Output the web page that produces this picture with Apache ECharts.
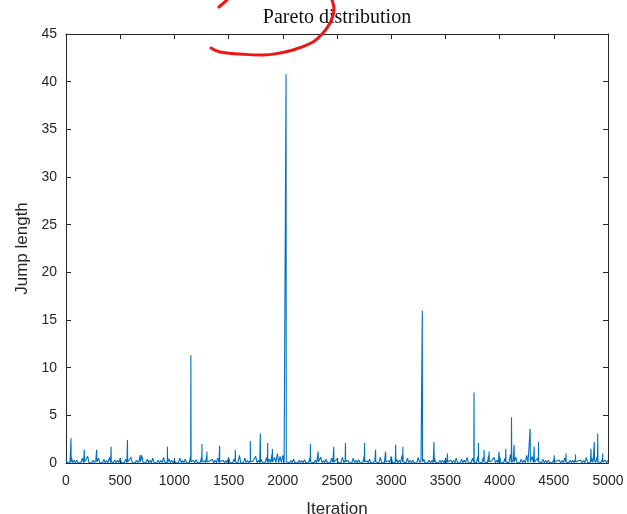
<!DOCTYPE html>
<html>
<head>
<meta charset="utf-8">
<script src="https://cdn.jsdelivr.net/npm/echarts@6/dist/echarts.min.js"></script>
<style>
    html, body { margin: 0; padding: 0; background: #fff; }
    #chart { width: 627px; height: 514px; }
</style>
</head>
<body>
<div id="chart"></div>
<script>
const TITLE = "Pareto distribution";
const X_NAME = "Iteration";
const Y_NAME = "Jump length";

// background noise of the trace, one reading every FLOOR_STEP iterations;
// between readings the trace drops back near zero
const FLOOR_STEP = 25;
const FLOOR_BASE = 0.03;
const floorLen = [
    0.4, 0.2, 0.6, 0.3, 0.3, 0.2, 0.5, 0.25, 0.7, 0.2, 0.3, 0.3, 0.5, 0.2, 0.4, 0.25, 0.6, 0.2, 0.3, 0.3,
    0.5, 0.2, 0.4, 0.3, 0.6, 0.2, 0.3, 0.25, 0.8, 0.2, 0.4, 0.3, 0.5, 0.2, 0.3, 0.25, 0.6, 0.2, 0.45, 0.3,
    0.3, 0.2, 0.5, 0.25, 0.4, 0.2, 0.7, 0.3, 0.35, 0.2, 0.6, 0.25, 0.9, 0.2, 0.4, 0.3, 0.5, 0.2, 0.3, 0.25,
    0.6, 0.2, 0.4, 0.3, 0.8, 0.2, 0.5, 0.25, 0.3, 0.2, 0.7, 0.3, 0.4, 0.2, 0.6, 0.4, 0.9, 0.6, 1.0, 0.7,
    0.8, 0.2, 0.3, 0.25, 0.4, 0.2, 0.3, 0.25, 0.35, 0.2, 0.5, 0.3, 0.3, 0.2, 0.6, 0.25, 0.4, 0.2, 0.5, 0.3,
    0.4, 0.2, 0.6, 0.25, 0.3, 0.2, 0.5, 0.3, 0.35, 0.2, 0.7, 0.25, 0.4, 0.2, 0.3, 0.3, 0.6, 0.2, 0.5, 0.25,
    0.7, 0.2, 0.4, 0.3, 0.8, 0.2, 0.5, 0.25, 0.3, 0.2, 0.6, 0.3, 0.4, 0.2, 0.3, 0.25, 0.5, 0.2, 0.3, 0.3,
    0.4, 0.2, 0.3, 0.25, 0.5, 0.2, 0.4, 0.3, 0.6, 0.2, 0.5, 0.3, 0.7, 0.2, 0.6, 0.3, 0.8, 0.2, 0.6, 0.3,
    0.7, 0.2, 0.5, 0.3, 0.9, 0.25, 0.6, 0.2, 0.4, 0.3, 0.8, 0.2, 0.7, 0.3, 0.5, 0.2, 0.4, 0.25, 0.3, 0.2,
    0.35, 0.2, 0.3, 0.25, 0.5, 0.2, 0.3, 0.3, 0.4, 0.2, 0.3, 0.25, 0.6, 0.2, 0.5, 0.3, 0.7, 0.2, 0.5, 0.3,
    0.3,
];

// visible spikes: iteration and jump length
const peakIter = [
    46, 169, 283, 416, 567, 684, 936, 1152, 1254, 1300, 1417, 1562, 1700, 1793, 1860, 1904,
    2030, 2255, 2326, 2470, 2578, 2754, 2856, 2948, 3041, 3108, 3287, 3395, 3519,
    3764, 3805, 3857, 3903, 3995, 4057, 4110, 4134, 4282, 4319, 4359, 4504, 4612, 4700,
    4843, 4874, 4905, 4951,
];
const peakLen = [
    2.6, 1.4, 1.4, 1.7, 2.4, 0.85, 1.7, 11.3, 2.0, 1.2, 1.8, 1.4, 2.3, 3.1, 2.1, 1.5,
    40.8, 2.0, 1.2, 1.7, 2.1, 2.1, 1.4, 1.2, 1.9, 1.7, 16.0, 2.2, 1.0,
    7.4, 2.1, 1.4, 1.2, 1.2, 1.5, 4.8, 1.9, 3.6, 1.7, 2.2, 0.8, 1.0, 0.9,
    1.5, 2.2, 3.1, 1.0,
];
const PEAK_BASE = 0.1;

const xTicks = { min: 0, max: 5000, interval: 500 };
const yTicks = { min: 0, max: 45, interval: 5 };

const points = [];
floorLen.forEach((v, i) => {
    points.push([i * FLOOR_STEP, v]);
    if (i < floorLen.length - 1) points.push([i * FLOOR_STEP + 12, FLOOR_BASE]);
});
peakIter.forEach((it, i) => {
    points.push([it - 2, PEAK_BASE], [it, peakLen[i]], [it + 2, PEAK_BASE]);
});
points.sort((a, b) => a[0] - b[0]);

const AXIS_COLOR = "#262626";
const FONT = "Liberation Sans";

function frameAxis(pos, ticks, labels) {
    return {
        type: "value",
        position: pos,
        ...ticks,
        axisLine: { show: true, onZero: false, lineStyle: { color: AXIS_COLOR, width: 1 } },
        axisTick: { show: true, inside: true, length: 5, lineStyle: { color: AXIS_COLOR } },
        axisLabel: labels
            ? { show: true, color: AXIS_COLOR, fontFamily: FONT, fontSize: 14, formatter: (v) => String(v) }
            : { show: false },
        splitLine: { show: false },
    };
}

const chart = echarts.init(document.getElementById("chart"));

const xMain = frameAxis("bottom", xTicks, true);
xMain.axisLabel.margin = 11;
xMain.name = X_NAME;
xMain.nameLocation = "middle";
xMain.nameGap = 38;
xMain.nameTextStyle = { color: AXIS_COLOR, fontFamily: FONT, fontSize: 17 };

const yMain = frameAxis("left", yTicks, true);
yMain.axisLabel.margin = 9;
yMain.name = Y_NAME;
yMain.nameLocation = "middle";
yMain.nameGap = 25;
yMain.nameTextStyle = { color: AXIS_COLOR, fontFamily: FONT, fontSize: 17 };

chart.setOption({
    animation: false,
    backgroundColor: "#fff",
    grid: { left: 66, right: 19, top: 34, bottom: 51, containLabel: false, outerBoundsMode: "none" },
    xAxis: [xMain, frameAxis("top", xTicks, false)],
    yAxis: [yMain, frameAxis("right", yTicks, false)],
    series: [
        {
            type: "line",
            data: points,
            showSymbol: false,
            lineStyle: { color: "#0072BD", width: 1.1 },
            z: 1,
        },
    ],
    graphic: [
        {
            type: "text",
            x: 337,
            y: 18,
            style: {
                text: TITLE,
                fontFamily: "Liberation Serif",
                fontSize: 20,
                fill: "#111",
                align: "center",
                verticalAlign: "middle",
            },
        },
        {
            type: "polyline",
            shape: {
                smooth: 0.4,
                points: [[332, 0], [334, 10], [330, 23], [323, 33], [313, 42], [293, 50], [280, 53],
                    [263, 55], [240, 54], [220, 52], [211, 48]],
            },
            style: { stroke: "#f01414", lineWidth: 3, fill: null, lineCap: "round" },
            z: 10,
        },
        {
            type: "polyline",
            shape: { points: [[219, 7], [227, 0]] },
            style: { stroke: "#f01414", lineWidth: 3, fill: null, lineCap: "round" },
            z: 10,
        },
    ],
});
</script>
</body>
</html>
